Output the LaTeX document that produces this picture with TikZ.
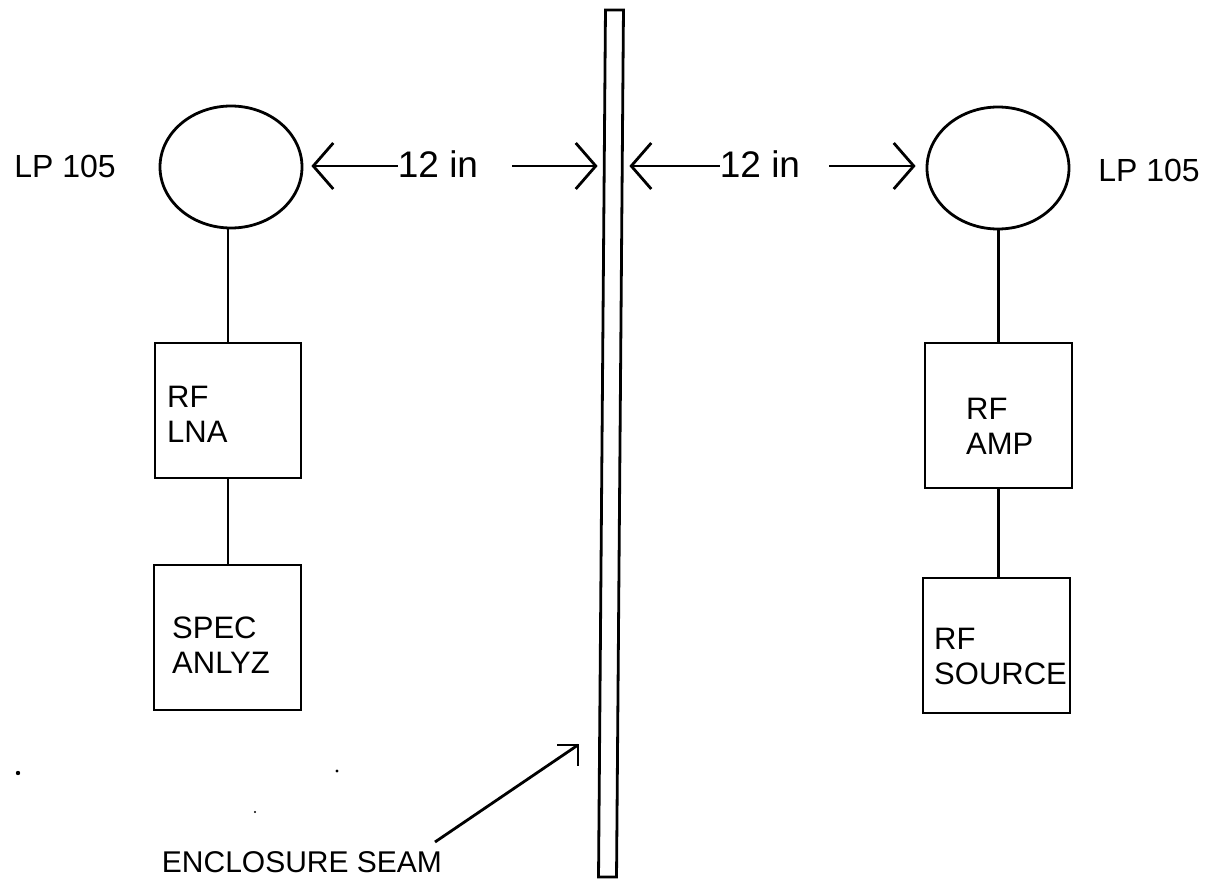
\documentclass[tikz,border=0pt]{standalone}
\usepackage{fontspec}
\setmainfont{Liberation Sans}
\usetikzlibrary{shapes.geometric,arrows.meta}
\begin{document}
\begin{tikzpicture}[x=1pt,y=-1pt,
  lw/.style={line width=2.8pt},
  probe/.style={draw,lw,ellipse,minimum width=142pt,minimum height=122pt,inner sep=0pt},
  unit/.style={draw,lw,rectangle,inner sep=0pt},
  lbl/.style={inner sep=0pt,font=\fontsize{32}{36}\selectfont},
  boxtxt/.style={inner sep=0pt,anchor=west,align=left,font=\fontsize{31}{35}\selectfont},
  dist/.style={inner sep=0pt,font=\fontsize{37}{40}\selectfont},
  conn/.style={line width=2.4pt},
  dim/.style={lw,-{Straight Barb[length=20pt,width=46pt]}},
]
\useasboundingbox (0,0) rectangle (1211,883);
\fill[white] (0,0) rectangle (1211,883);

% enclosure seam
\node[unit,minimum width=18pt,minimum height=867pt,rotate=-0.46] (seam) at (611,443.5) {};

% probes
\node[probe] (cL) at (231,167) {};
\node[probe] (cR) at (998,168) {};
\node[lbl] (lpL) at (65,166.5) {LP 105};
\node[lbl] (lpR) at (1149,170) {LP 105};

% boxes
\node[unit,minimum width=146pt,minimum height=135pt] (lna) at (228,410.5) {};
\node[unit,minimum width=147pt,minimum height=145pt] (spec) at (227.5,637.5) {};
\node[unit,minimum width=147pt,minimum height=145pt] (amp) at (998.5,415.5) {};
\node[unit,minimum width=147pt,minimum height=135pt] (src) at (996.5,645.5) {};

\node[boxtxt] (tlna) at (167,414) {RF\\LNA};
\node[boxtxt] (tspec) at (172,645) {SPEC\\ANLYZ};
\node[boxtxt] (tamp) at (966,426) {RF\\AMP};
\node[boxtxt] (tsrc) at (934,656) {RF\\SOURCE};

% connectors
\draw[conn] (lna.north |- cL.south) -- (lna.north);
\draw[conn] (lna.south) -- (lna.south |- spec.north);
\draw[conn] (amp.north |- cR.south) -- (amp.north);
\draw[conn] (amp.south) -- (amp.south |- src.north);

% distance marks
\node[dist] (dL) at (438,164) {12 in};
\node[dist] (dR) at (760,164) {12 in};
\coordinate (dLa) at (512,166);
\coordinate (dRa) at (829,166);
\draw[dim] (dL.west |- dLa) -- ([xshift=8]cL.east |- dLa);
\draw[dim] (dLa) -- ([xshift=-3]seam.west |- dLa);
\draw[dim] (dR.west |- dRa) -- ([xshift=8]seam.east |- dRa);
\draw[dim] (dRa) -- ([xshift=-10]cR.west |- dRa);

% enclosure seam label
\node[lbl,font=\fontsize{30}{32}\selectfont] (es) at (302,862) {ENCLOSURE SEAM};
\coordinate (esA) at (435,842);
\coordinate (esT) at (578,745);
\draw[lw] (esA) -- (esT);
\draw[lw,line join=miter] ([xshift=-21]esT) -- (esT) -- ([yshift=-21]esT);

% specks
\fill (18,773) circle (2.2pt);
\fill (337,771) circle (1.6pt);
\fill (255,812) circle (1.2pt);
\end{tikzpicture}
\end{document}
